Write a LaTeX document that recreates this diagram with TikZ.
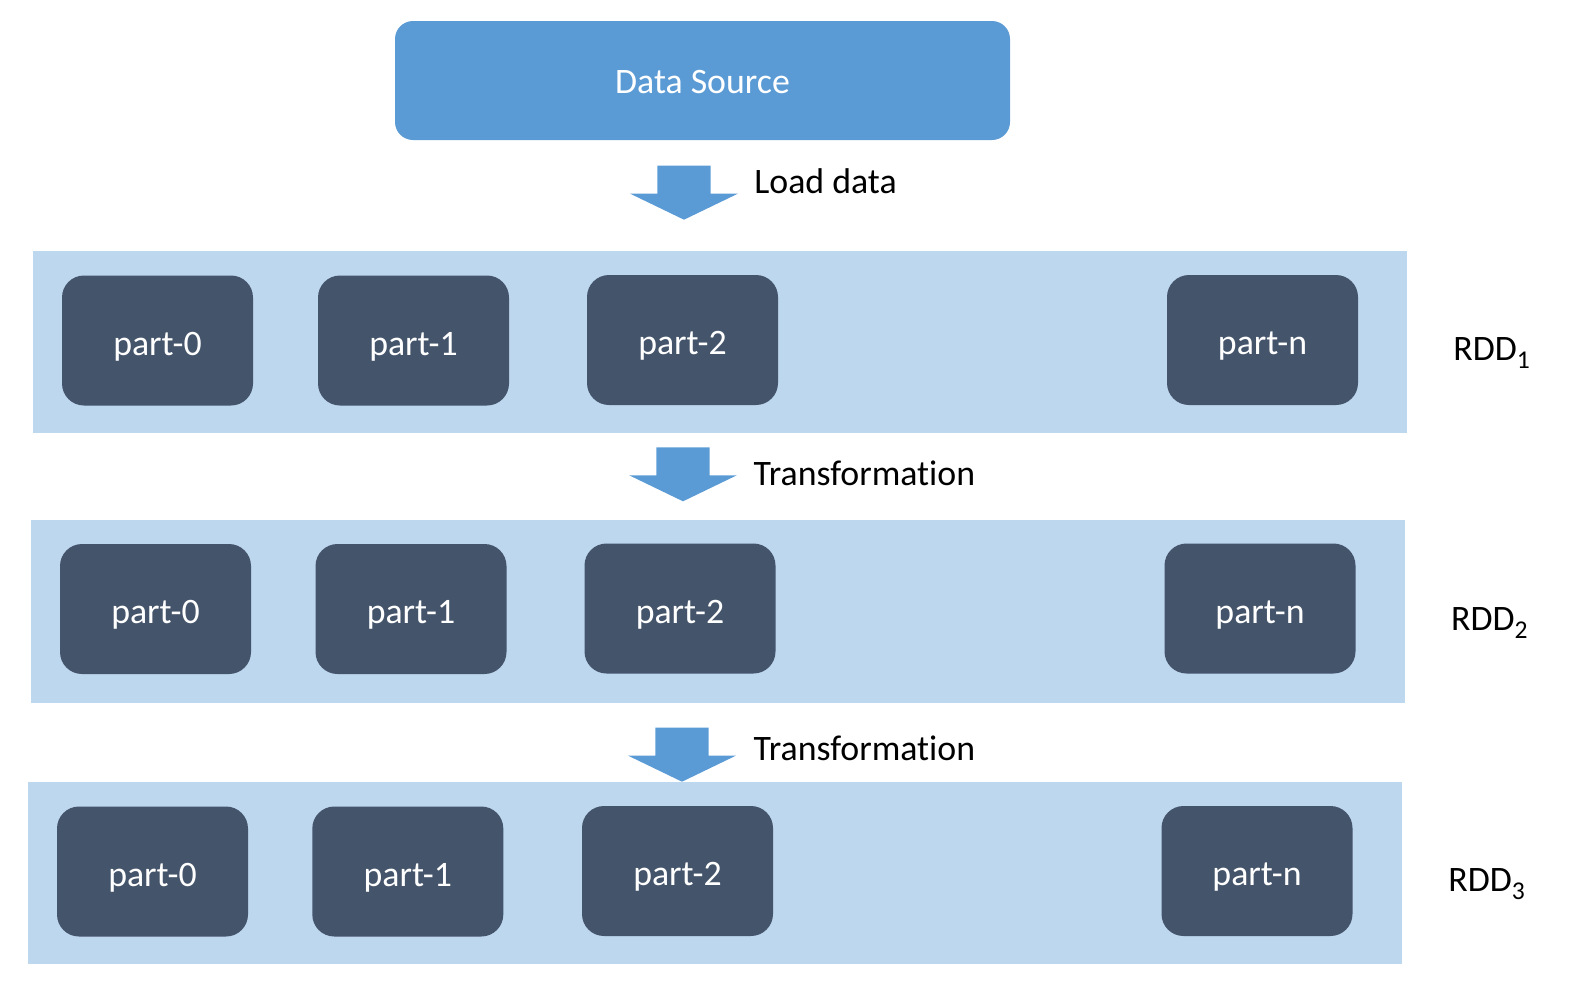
\documentclass[tikz,border=0pt]{standalone}
\usepackage{fontspec}
\setmainfont{Carlito}[Ligatures=NoCommon]
\definecolor{dsblue}{HTML}{5B9BD5}
\definecolor{bandblue}{HTML}{BDD7EE}
\definecolor{partgray}{HTML}{44546A}
\newcommand\mainsize{\fontsize{17.9pt}{20pt}\selectfont}
\newcommand\subdigit[1]{\raisebox{-4pt}{\fontsize{12.8pt}{14pt}\selectfont #1}}
\tikzset{
  sourcebox/.style={fill=dsblue, rounded corners=9pt, inner sep=0pt, outer sep=0pt,
    minimum width=307.5pt, minimum height=59.5pt, text=white, font=\mainsize,
    text height=12.8pt, text depth=0pt},
  band/.style={fill=bandblue, inner sep=0pt, outer sep=0pt, minimum width=687pt, minimum height=91pt},
  partbox/.style={fill=partgray, rounded corners=11pt, inner sep=0pt, outer sep=0pt,
    minimum width=95.5pt, minimum height=65pt, text=white, font=\mainsize,
    text height=14.5pt, text depth=0pt},
  steplabel/.style={anchor=base west, inner sep=0pt, font=\mainsize, text=black},
  rddlabel/.style={anchor=base west, inner sep=0pt, font=\mainsize, text=black},
  blockarrow/.style={fill=dsblue}
}
\newcommand\downarrowat[1]{\fill[blockarrow] (#1) ++(-26.7,0) -- ++(53.4,0) -- ++(0,28) -- ++(27.1,0) -- ++(-53.8,26) -- ++(-53.8,-26) -- ++(27.1,0) -- cycle;}
\begin{document}
\begin{tikzpicture}[x=0.5pt,y=-0.5pt]
\useasboundingbox (0,0) rectangle (1575,992);

% source
\node[sourcebox] (ds) at (702.5,80.5) {Data Source};

% bands
\node[band] (b1) at (720,342) {};
\node[band, minimum height=91.35pt] (b2) at (717.5,611.3) {};
\node[band] (b3) at (714.5,873) {};

% row 1
\node[partbox] (p10) at (157.5,340.5) {part-0};
\node[partbox] (p11) at (413.5,340.5) {part-1};
\node[partbox] (p12) at (682.5,340) {part-2};
\node[partbox] (p1n) at (1262.5,340) {part-n};
% row 2
\node[partbox] (p20) at (155.5,609) {part-0};
\node[partbox] (p21) at (411,609) {part-1};
\node[partbox] (p22) at (680,608.5) {part-2};
\node[partbox] (p2n) at (1260,608.5) {part-n};
% row 3
\node[partbox] (p30) at (152.5,871.5) {part-0};
\node[partbox] (p31) at (407.8,871.5) {part-1};
\node[partbox] (p32) at (677.5,871) {part-2};
\node[partbox] (p3n) at (1257,871) {part-n};

% RDD labels
\node[rddlabel] (r1) at (1453,360.7) {RDD\subdigit{1}};
\node[rddlabel] (r2) at (1450.7,630.7) {RDD\subdigit{2}};
\node[rddlabel] (r3) at (1448,891.5) {RDD\subdigit{3}};

% arrows
\coordinate (a1) at (684,165.7);
\coordinate (a2) at (683,447.3);
\coordinate (a3) at (682,727.7);
\downarrowat{a1}
\downarrowat{a2}
\downarrowat{a3}

% step labels
\node[steplabel] (l1) at (754,193.3) {Load data};
\node[steplabel] (l2) at (753.3,485.7) {Transformation};
\node[steplabel] (l3) at (753.3,760.7) {Transformation};
\end{tikzpicture}
\end{document}
